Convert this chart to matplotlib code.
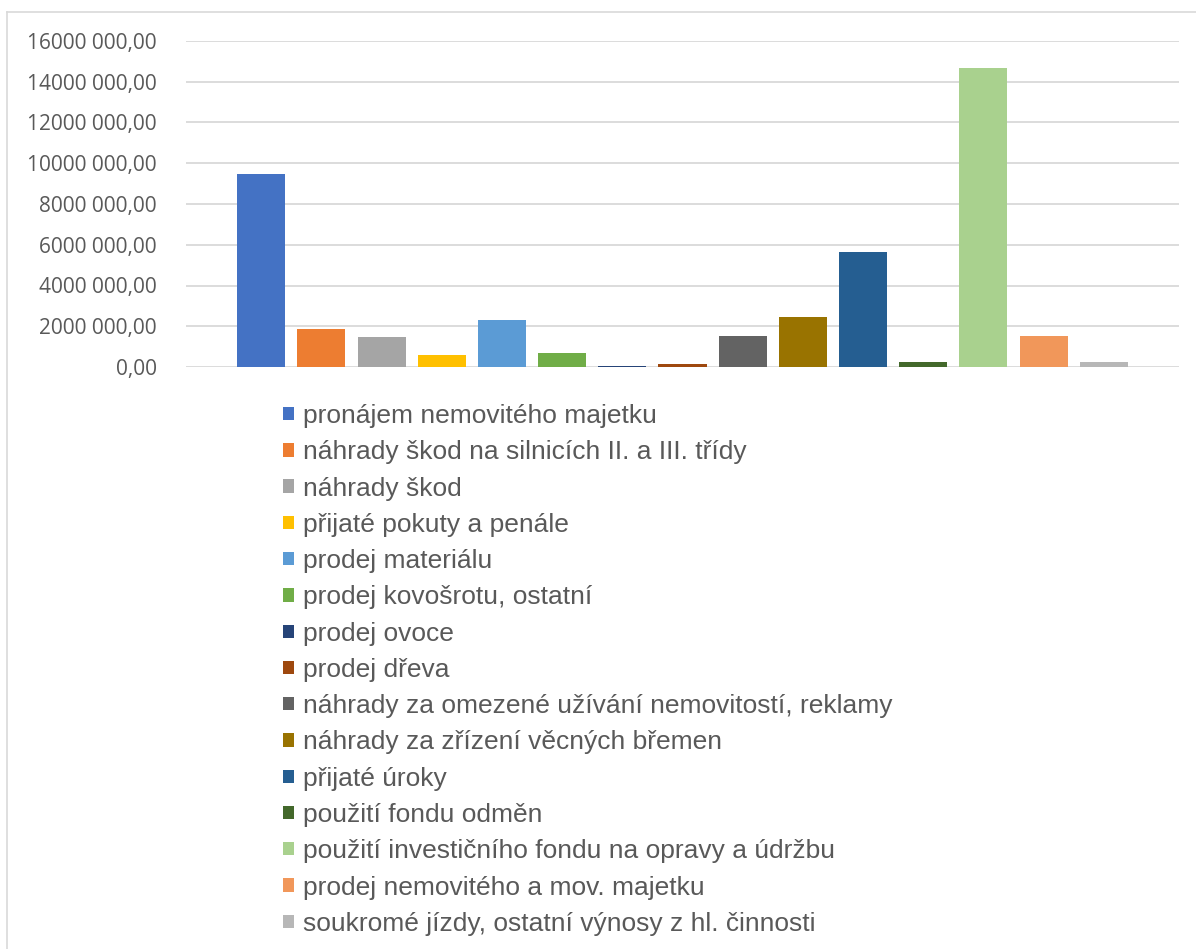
#!/usr/bin/env python3
"""Non-tax revenue by item (single-category clustered bar chart)."""

import matplotlib.pyplot as plt
from matplotlib.patches import Patch
from matplotlib.lines import Line2D
from matplotlib.ticker import FuncFormatter, MultipleLocator

labels = [
    "pronájem nemovitého majetku",
    "náhrady škod na silnicích II. a III. třídy",
    "náhrady škod",
    "přijaté pokuty a penále",
    "prodej materiálu",
    "prodej kovošrotu, ostatní",
    "prodej ovoce",
    "prodej dřeva",
    "náhrady za omezené užívání nemovitostí, reklamy",
    "náhrady za zřízení věcných břemen",
    "přijaté úroky",
    "použití fondu odměn",
    "použití investičního fondu na opravy a údržbu",
    "prodej nemovitého a mov. majetku",
    "soukromé jízdy, ostatní výnosy z hl. činnosti",
]
values = [9470000, 1870000, 1470000, 590000, 2310000, 690000, 30000, 150000,
          1520000, 2450000, 5650000, 230000, 14680000, 1510000, 230000]
colors = ["#4472C4", "#ED7D31", "#A5A5A5", "#FFC000", "#5B9BD5", "#70AD47",
          "#264478", "#9E480E", "#636363", "#997300", "#255E91", "#43682B",
          "#A9D18E", "#F1975A", "#B7B7B7"]

W, H = 1196, 949
fig = plt.figure(figsize=(W / 100, H / 100), dpi=100)
ax = fig.add_axes([186 / W, 1 - 367 / H, (1179 - 186) / W, (367 - 41) / H])

x = list(range(len(values)))
ax.bar(x, values, width=0.8, color=colors, zorder=3)
ax.set_xlim(-1.25, len(values) - 1 + 1.25)
ax.set_ylim(0, 16000000)
ax.yaxis.set_major_locator(MultipleLocator(2000000))


def cz_fmt(v, _pos):
    v = int(round(v))
    if v < 1000:
        return f"{v},00"
    return f"{v // 1000} {v % 1000:03d},00"


ax.yaxis.set_major_formatter(FuncFormatter(cz_fmt))
ax.grid(axis="y", color="#D9D9D9", linewidth=1.3, zorder=0)
ax.set_xticks([])
for s in ax.spines.values():
    s.set_visible(False)
ax.tick_params(axis="y", length=0, pad=21, labelsize=15, labelcolor="#595959")
for t in ax.get_yticklabels():
    t.set_fontfamily(["Open Sans", "DejaVu Sans"])

handles = [Patch(facecolor=c, edgecolor="none") for c in colors]
fig.legend(handles, labels, loc="upper left",
           bbox_to_anchor=(283 / W, 1 - 404 / H), frameon=False,
           prop={"family": ["Liberation Sans", "DejaVu Sans"], "size": 19},
           labelcolor="#595959", handlelength=0.4, handleheight=0.4,
           handletextpad=0.37, labelspacing=0.465, borderpad=0, borderaxespad=0)

# chart area border (cropped on the right and bottom)
fig.add_artist(Line2D([7 / W, 1], [1 - 12 / H, 1 - 12 / H], color="#D9D9D9", lw=1.2))
fig.add_artist(Line2D([7 / W, 7 / W], [0, 1 - 12 / H], color="#D9D9D9", lw=1.2))

fig.savefig("out.png", dpi=100)
